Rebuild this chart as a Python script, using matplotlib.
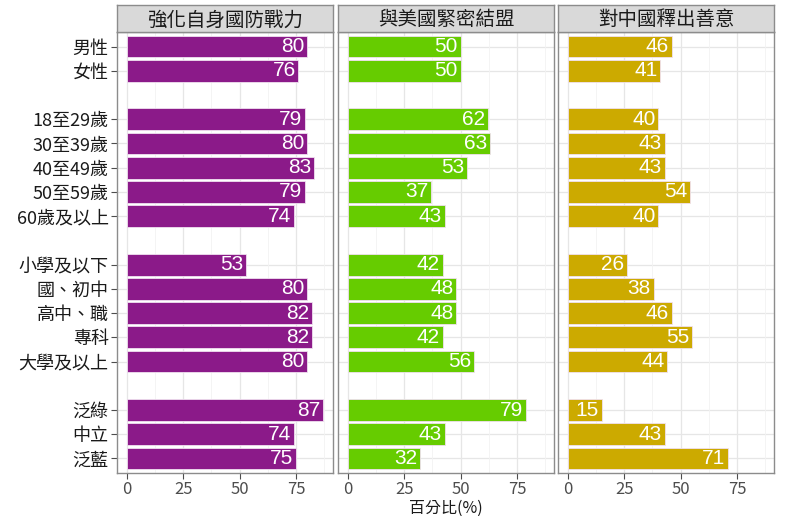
import matplotlib
matplotlib.use("Agg")
import matplotlib.pyplot as plt
import numpy as np

plt.rcParams['font.family'] = ['Liberation Sans Narrow', 'Noto Sans CJK TC', 'DejaVu Sans']

categories = ["男性", "女性", "", "18至29歲", "30至39歲", "40至49歲", "50至59歲", "60歲及以上", " ",
              "小學及以下", "國、初中", "高中、職", "專科", "大學及以上", "  ",
              "泛綠", "中立", "泛藍"]
panels = ["強化自身國防戰力", "與美國緊密結盟", "對中國釋出善意"]
v_defense = [80, 76, None, 79, 80, 83, 79, 74, None, 53, 80, 82, 82, 80, None, 87, 74, 75]
v_us = [50, 50, None, 62, 63, 53, 37, 43, None, 42, 48, 48, 42, 56, None, 79, 43, 32]
v_china = [46, 41, None, 40, 43, 43, 54, 40, None, 26, 38, 46, 55, 44, None, 15, 43, 71]
colors = ["#8B1A89", "#66CC00", "#CCAA00"]
xticks = [0, 25, 50, 75]
xlabel = "百分比(%)"

W, H = 800, 516
fig = plt.figure(figsize=(8, 5.16), dpi=100)
lefts = [117, 338, 558]
pw = 216
ptop, pbot = 32, 473
stop = 5
n = len(categories)
ypos = np.arange(n)

border = "#8c8c8c"
for i, (title, vals, col) in enumerate(zip(panels, [v_defense, v_us, v_china], colors)):
    ax = fig.add_axes([lefts[i] / W, 1 - pbot / H, pw / W, (pbot - ptop) / H])
    idx = [k for k, v in enumerate(vals) if v is not None]
    vv = [vals[k] for k in idx]
    ax.barh(ypos[idx], vv, height=0.9, color=col, edgecolor="#f0e0f0", linewidth=0.6, zorder=3)
    for k, v in zip(idx, vv):
        ax.text(v - 1.2, k, str(v), ha="right", va="center", color="white", fontsize=15,
                family=['Liberation Sans', 'DejaVu Sans'], zorder=4)
    ax.set_xlim(-4.35, 91.35)
    ax.set_ylim(n - 0.4, -0.6)
    ax.set_xticks(xticks)
    ax.set_xticks([12.5, 37.5, 62.5, 87.5], minor=True)
    ax.grid(True, which="major", axis="x", color="#e6e6e6", linewidth=0.9, zorder=0)
    ax.grid(True, which="minor", axis="x", color="#f2f2f2", linewidth=0.6, zorder=0)
    for k in idx:
        ax.axhline(k, color="#e6e6e6", linewidth=0.9, zorder=0)
    ax.set_xticklabels([str(t) for t in xticks], fontsize=12, color="#4d4d4d")
    ax.tick_params(axis="x", which="major", length=4, color="#4d4d4d", pad=2)
    ax.tick_params(axis="x", which="minor", length=0)
    if i == 0:
        ax.set_yticks(ypos[[k for k in range(n) if categories[k].strip()]])
        ax.set_yticklabels([c for c in categories if c.strip()], fontsize=13, color="#1a1a1a")
        ax.tick_params(axis="y", length=4, color="#4d4d4d", pad=2)
    else:
        ax.set_yticks([])
    for s in ax.spines.values():
        s.set_color(border)
        s.set_linewidth(1.0)
    ax.set_facecolor("white")
    # strip
    sax = fig.add_axes([lefts[i] / W, 1 - ptop / H, pw / W, (ptop - stop) / H])
    sax.set_facecolor("#d9d9d9")
    sax.set_xticks([])
    sax.set_yticks([])
    for s in sax.spines.values():
        s.set_color(border)
        s.set_linewidth(1.0)
    sax.text(0.5, 0.45, title, ha="center", va="center", fontsize=14, color="#1a1a1a",
             transform=sax.transAxes)

fig.text((338 + pw / 2) / W, 1 - 508 / H, xlabel, ha="center", va="center", fontsize=11.5, color="#1a1a1a")
fig.savefig("out.png", dpi=100, facecolor="white")
